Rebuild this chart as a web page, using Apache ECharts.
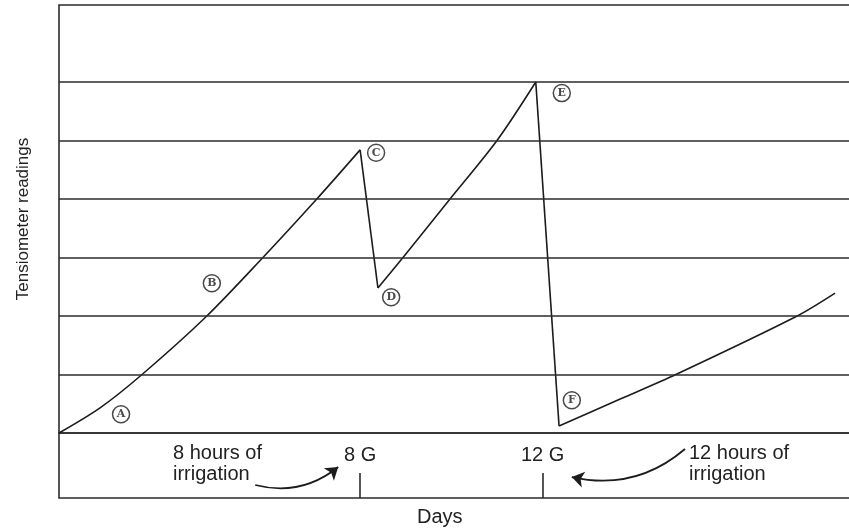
<!DOCTYPE html>
<html>
<head>
<meta charset="utf-8">
<script src="https://cdn.jsdelivr.net/npm/echarts@6/dist/echarts.min.js"></script>
<style>
    html, body { margin: 0; padding: 0; background: #fff; }
    #chart { width: 849px; height: 528px; }
</style>
</head>
<body>
<div id="chart"></div>
<script>
    // readings (x in days, y in grid units)
    var daysAC = [1.4, 2.3, 3.22, 4.64, 5.87, 7.05, 8.0];
    var valuesAC = [0, 0.43, 1.0, 2.0, 3.0, 4.0, 4.84];
    var daysDE = [8.39, 8.94, 9.97, 11.0, 11.85];
    var valuesDE = [2.48, 3.0, 4.0, 5.0, 6.0];
    var daysFG = [12.36, 13.7, 14.92, 17.58, 18.41];
    var valuesFG = [0.12, 0.58, 1.0, 2.0, 2.39];

    var gridLevels = [1, 2, 3, 4, 5, 6];
    var irrigationDays = [8, 12];

    var letters = ['A', 'B', 'C', 'D', 'E', 'F'];
    var letterDays = [2.76, 4.75, 8.35, 8.68, 12.42, 12.64];
    var letterValues = [0.32, 2.56, 4.79, 2.32, 5.81, 0.56];

    function pairs(xs, ys) {
        return xs.map(function (x, i) { return [x, ys[i]]; });
    }

    var ink = '#1c1c1c';
    var rise = { type: 'line', xAxisIndex: 0, yAxisIndex: 0, smooth: 0.3,
                 symbol: 'none', lineStyle: { color: ink, width: 1.6 } };

    var chart = echarts.init(document.getElementById('chart'));
    chart.setOption({
        animation: false,
        grid: [
            { left: 59, top: 5, width: 803, height: 428, outerBoundsMode: 'none',
              show: true, borderColor: '#2b2b2b', borderWidth: 1.6 },
            { left: 59, top: 433, width: 803, height: 65, outerBoundsMode: 'none',
              show: true, borderColor: '#2b2b2b', borderWidth: 1.6 }
        ],
        xAxis: [
            { type: 'value', gridIndex: 0, min: 1.4, max: 19, show: false },
            {
                type: 'value', gridIndex: 1, min: 1.4, max: 19,
                axisLine: { show: false },
                splitLine: { show: false },
                axisTick: { show: true, inside: true, length: 25, customValues: irrigationDays,
                            lineStyle: { color: '#2b2b2b', width: 1.6 } },
                axisLabel: { inside: true, margin: 33, customValues: irrigationDays,
                             formatter: function (v) { return v + ' G'; },
                             fontFamily: 'Liberation Sans', fontSize: 20, color: '#222' }
            }
        ],
        yAxis: [
            {
                type: 'value', gridIndex: 0, min: 0, max: 7.316,
                axisLine: { show: false }, axisTick: { show: false },
                axisLabel: { show: false }, splitLine: { show: false },
                name: 'Tensiometer readings', nameLocation: 'middle', nameGap: 27,
                nameTextStyle: { fontFamily: 'Liberation Sans', fontSize: 17, color: '#222' }
            },
            { type: 'value', gridIndex: 1, min: 0, max: 1, show: false }
        ],
        graphic: [
            { type: 'text', left: 173, top: 443,
              style: { text: '8 hours of\nirrigation', font: '20px "Liberation Sans"', lineHeight: 21, fill: '#222' } },
            { type: 'text', left: 689, top: 443,
              style: { text: '12 hours of\nirrigation', font: '20px "Liberation Sans"', lineHeight: 21, fill: '#222' } },
            { type: 'text', left: 417, top: 507,
              style: { text: 'Days', font: '20px "Liberation Sans"', fill: '#222' } }
        ],
        series: [
            Object.assign({}, rise, {
                data: pairs(daysAC, valuesAC),
                markLine: {
                    silent: true, symbol: 'none', label: { show: false },
                    lineStyle: { color: '#2b2b2b', width: 1.6, type: 'solid' },
                    data: gridLevels.map(function (v) { return { yAxis: v }; })
                }
            }),
            Object.assign({}, rise, { data: pairs(daysDE, valuesDE) }),
            Object.assign({}, rise, { data: pairs(daysFG, valuesFG) }),
            Object.assign({}, rise, { smooth: false,
                data: [[daysAC[6], valuesAC[6]], [daysDE[0], valuesDE[0]]] }),
            Object.assign({}, rise, { smooth: false,
                data: [[daysDE[4], valuesDE[4]], [daysFG[0], valuesFG[0]]] }),
            {
                type: 'scatter', xAxisIndex: 0, yAxisIndex: 0, z: 5,
                symbol: 'circle', symbolSize: 17,
                itemStyle: { color: '#fff', borderColor: ink, borderWidth: 1.5 },
                label: { show: true, position: 'inside', color: ink,
                         fontFamily: 'DejaVu Serif', fontWeight: 'bold', fontSize: 11,
                         formatter: function (p) { return p.value[2]; } },
                data: letters.map(function (l, i) { return [letterDays[i], letterValues[i], l]; })
            },
            {
                type: 'lines', coordinateSystem: 'cartesian2d', xAxisIndex: 1, yAxisIndex: 1,
                symbol: ['none', 'arrow'], symbolSize: 12,
                lineStyle: { color: ink, width: 1.8, opacity: 1 },
                data: [
                    { coords: [[5.70, 0.2], [7.52, 0.477]], lineStyle: { curveness: -0.25 } },
                    { coords: [[15.12, 0.754], [12.64, 0.323]], lineStyle: { curveness: 0.25 } }
                ]
            }
        ]
    });
</script>
</body>
</html>
